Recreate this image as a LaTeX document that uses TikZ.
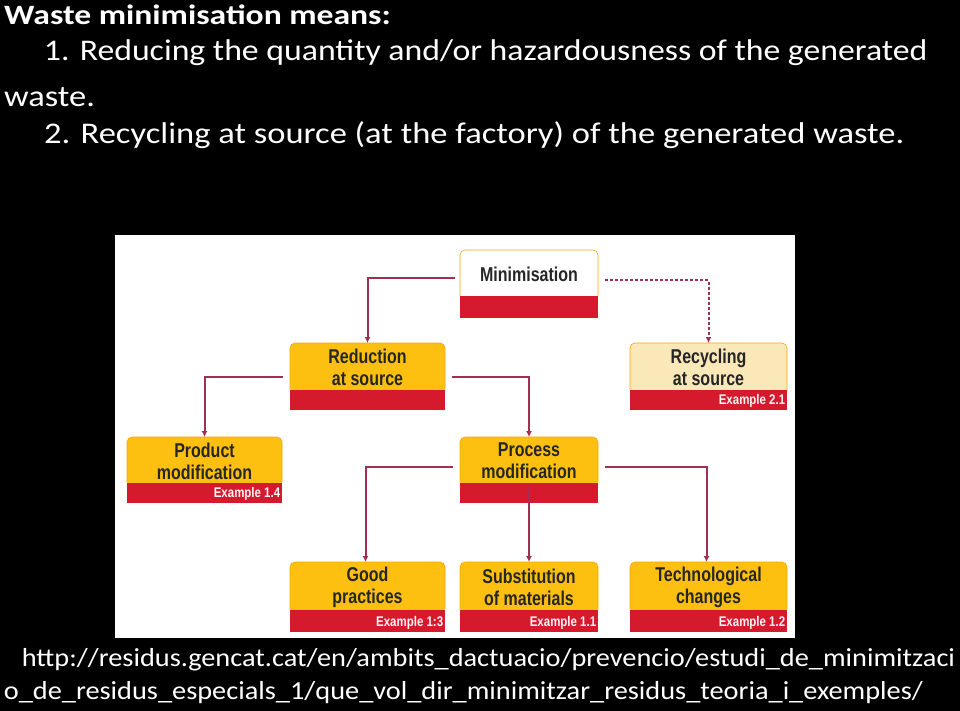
\documentclass[tikz,border=0pt]{standalone}
\usepackage{fontspec}
\setmainfont{Carlito}
\newfontfamily\boxfont{Liberation Sans}
\usetikzlibrary{arrows.meta}
\definecolor{ylw}{HTML}{FDC010}
\definecolor{rd}{HTML}{D41A2C}
\definecolor{crm}{HTML}{FBE8B8}
\definecolor{cn}{HTML}{A03050}
\tikzset{
  lbl/.style={font=\boxfont\bfseries\fontsize{20}{22}\selectfont, align=center, text=black!85, xscale=0.8},
  ex/.style={font=\boxfont\bfseries\fontsize{14}{14}\selectfont, text=white!85!pink, anchor=south east, xscale=0.82, inner sep=2pt},
  conn/.style={draw=cn, line width=2pt, -{Latex[length=6pt,width=6pt]}},
  wtxt/.style={text=white, anchor=west},
}
\newcommand{\wbox}[8]{% name x1 y1 x2 y2 ysplit fill label
  \fill[#7,rounded corners=5pt] (#2,#3) rectangle (#4,#6+3);
  \draw[ylw!60!orange,line width=0.6pt,rounded corners=5pt] (#2,#6) -- (#2,#3) -- (#4,#3) -- (#4,#6);
  \fill[rd] (#2,#6) rectangle (#4,#5);
  \node[lbl] (#1) at ({(#2+#4)/2},{(#3+#6)/2+1}) {#8};
  \coordinate (#1-t) at ({(#2+#4)/2},#3);
  \coordinate (#1-b) at ({(#2+#4)/2},#5);
}
\begin{document}
\begin{tikzpicture}[x=1pt,y=-1pt]
\fill[black] (0,0) rectangle (960,711);
\useasboundingbox (0,0) rectangle (960,711);
\node[wtxt,font=\bfseries\fontsize{28}{28}\selectfont,xscale=1.2] (t) at (0,15) {Waste minimisation means:};
\node[wtxt,font=\fontsize{30}{30}\selectfont,xscale=1.125] (l1) at (40,53) {1. Reducing the quantity and/or hazardousness of the generated};
\node[wtxt,font=\fontsize{30}{30}\selectfont,xscale=1.15] (l1b) at (0,97) {waste.};
\node[wtxt,font=\fontsize{30}{30}\selectfont,xscale=1.15] (l2) at (40,135) {2. Recycling at source (at the factory) of the generated waste.};
\fill[white] (115,235) rectangle (795,638);
\wbox{min}{460}{250}{598}{318}{296}{white}{Minimisation}
\wbox{red}{290}{343}{445}{410}{390}{ylw}{Reduction\\at source}
\wbox{rec}{630}{343}{787}{410}{390}{crm}{Recycling\\at source}
\wbox{prod}{127}{437}{282}{503}{483}{ylw}{Product\\modification}
\wbox{proc}{460}{437}{598}{503}{483}{ylw}{Process\\modification}
\wbox{good}{290}{562}{445}{632}{610}{ylw}{Good\\practices}
\wbox{sub}{460}{562}{598}{632}{610}{ylw}{Substitution\\of materials}
\wbox{tech}{630}{562}{787}{632}{610}{ylw}{Technological\\changes}
\node[ex] (e1) at (787,410) {Example 2.1};
\node[ex] (e2) at (282,503) {Example 1.4};
\node[ex] (e3) at (445,632) {Example 1:3};
\node[ex] (e4) at (598,632) {Example 1.1};
\node[ex] (e5) at (787,632) {Example 1.2};
\coordinate (a1) at (455,278);
\coordinate (a2) at (605,280);
\coordinate (a3) at (283,377);
\coordinate (a4) at (452,377);
\coordinate (a5) at (453,467);
\coordinate (a6) at (605,467);
\draw[conn] (a1) -| (red-t);
\draw[conn,dash pattern=on 3pt off 2pt] (a2) -| (rec-t);
\draw[conn] (a3) -| (prod-t);
\draw[conn] (a4) -| (proc-t);
\draw[conn] (a5) -| ([xshift=-2pt]good-t);
\draw[conn] ([yshift=15pt]proc-b) -- (sub-t);
\draw[conn] (a6) -| ([xshift=-2pt]tech-t);
\node[wtxt,font=\fontsize{26}{26}\selectfont,xscale=1.09] (u1) at (18,660) {http://residus.gencat.cat/en/ambits\_dactuacio/prevencio/estudi\_de\_minimitzaci};
\node[wtxt,font=\fontsize{26}{26}\selectfont,xscale=1.09] (u2) at (0,693) {o\_de\_residus\_especials\_1/que\_vol\_dir\_minimitzar\_residus\_teoria\_i\_exemples/};
\end{tikzpicture}
\end{document}
